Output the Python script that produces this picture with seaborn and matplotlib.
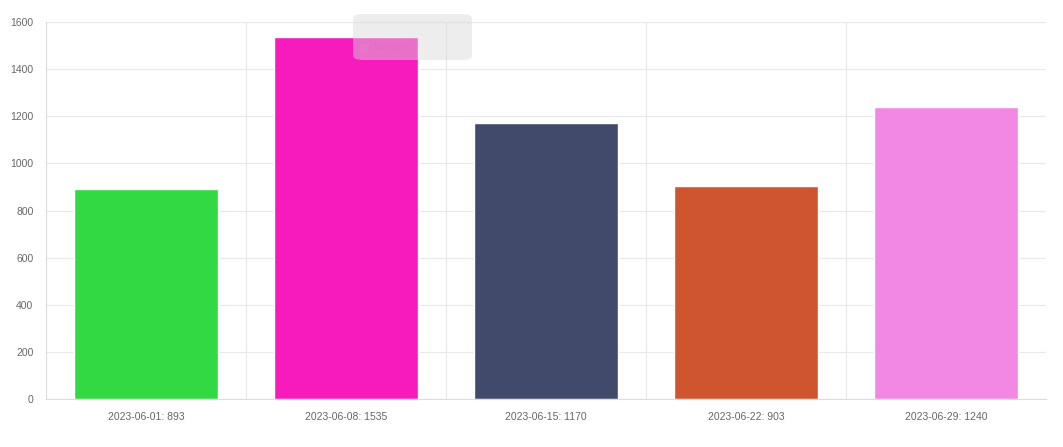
import numpy as np
import pandas as pd
import matplotlib.pyplot as plt
import seaborn as sns
from matplotlib.patches import FancyBboxPatch, Rectangle

# Valores.
dates = ['2023-06-01', '2023-06-08', '2023-06-15', '2023-06-22', '2023-06-29']
values = [893, 1535, 1170, 903, 1240]
colors = ['#33d943', '#f71bbd', '#414a6b', '#cf5530', '#f288e3']
labels = [f'{d}: {v}' for d, v in zip(dates, values)]

df = pd.DataFrame({'label': labels, 'value': values})

sns.set_style('white')
plt.rcParams['font.family'] = ['Liberation Sans', 'DejaVu Sans']

fig = plt.figure(figsize=(10.63, 4.47), dpi=100)
ax = fig.add_axes([46 / 1063, 1 - 399 / 447, 1000 / 1063, 377 / 447])

sns.barplot(data=df, x='label', y='value', hue='label', palette=colors,
            width=0.72, saturation=1, legend=False, ax=ax)

ax.set_ylim(0, 1600)
ax.set_xlim(-0.5, len(labels) - 0.5)
ax.set_yticks(np.arange(0, 1601, 200))
ax.set_xticks(np.arange(len(labels)))
ax.set_xticklabels(labels)
ax.set_xticks(np.arange(-0.5, len(labels), 1), minor=True)
ax.set_xlabel('')
ax.set_ylabel('')

# Grade ao estilo Chart.js.
ax.set_axisbelow(True)
ax.grid(axis='y', color='#e8e8e8', linewidth=0.8)
ax.grid(axis='x', which='minor', color='#e8e8e8', linewidth=0.8)
ax.tick_params(axis='x', which='major', length=0, pad=9,
               labelsize=7.5, labelcolor='#666666')
ax.tick_params(axis='x', which='minor', length=6, color='#e8e8e8')
ax.tick_params(axis='y', length=6, color='#e8e8e8', pad=3,
               labelsize=7.5, labelcolor='#666666')
for side in ['top', 'right']:
    ax.spines[side].set_visible(False)
for side in ['left', 'bottom']:
    ax.spines[side].set_color('#dcdcdc')

# Tooltip esmaecido no topo.
box = FancyBboxPatch((353 / 1063, 1 - 60 / 447), 119 / 1063, 46 / 447,
                     boxstyle='round,pad=0,rounding_size=0.01',
                     transform=fig.transFigure, facecolor='#d9d9d9',
                     edgecolor='none', alpha=0.45, zorder=5)
fig.patches.append(box)
fig.patches.append(Rectangle((360 / 1063, 1 - 52 / 447), 9 / 1063, 9 / 447,
                             transform=fig.transFigure, facecolor='#e080c8',
                             edgecolor='none', alpha=0.4, zorder=6))
fig.text(373 / 1063, 1 - 47.5 / 447, 'Sample', fontsize=7.5, color='#e070c0',
         alpha=0.5, va='center', zorder=6)

fig.savefig('out.png', dpi=100)
